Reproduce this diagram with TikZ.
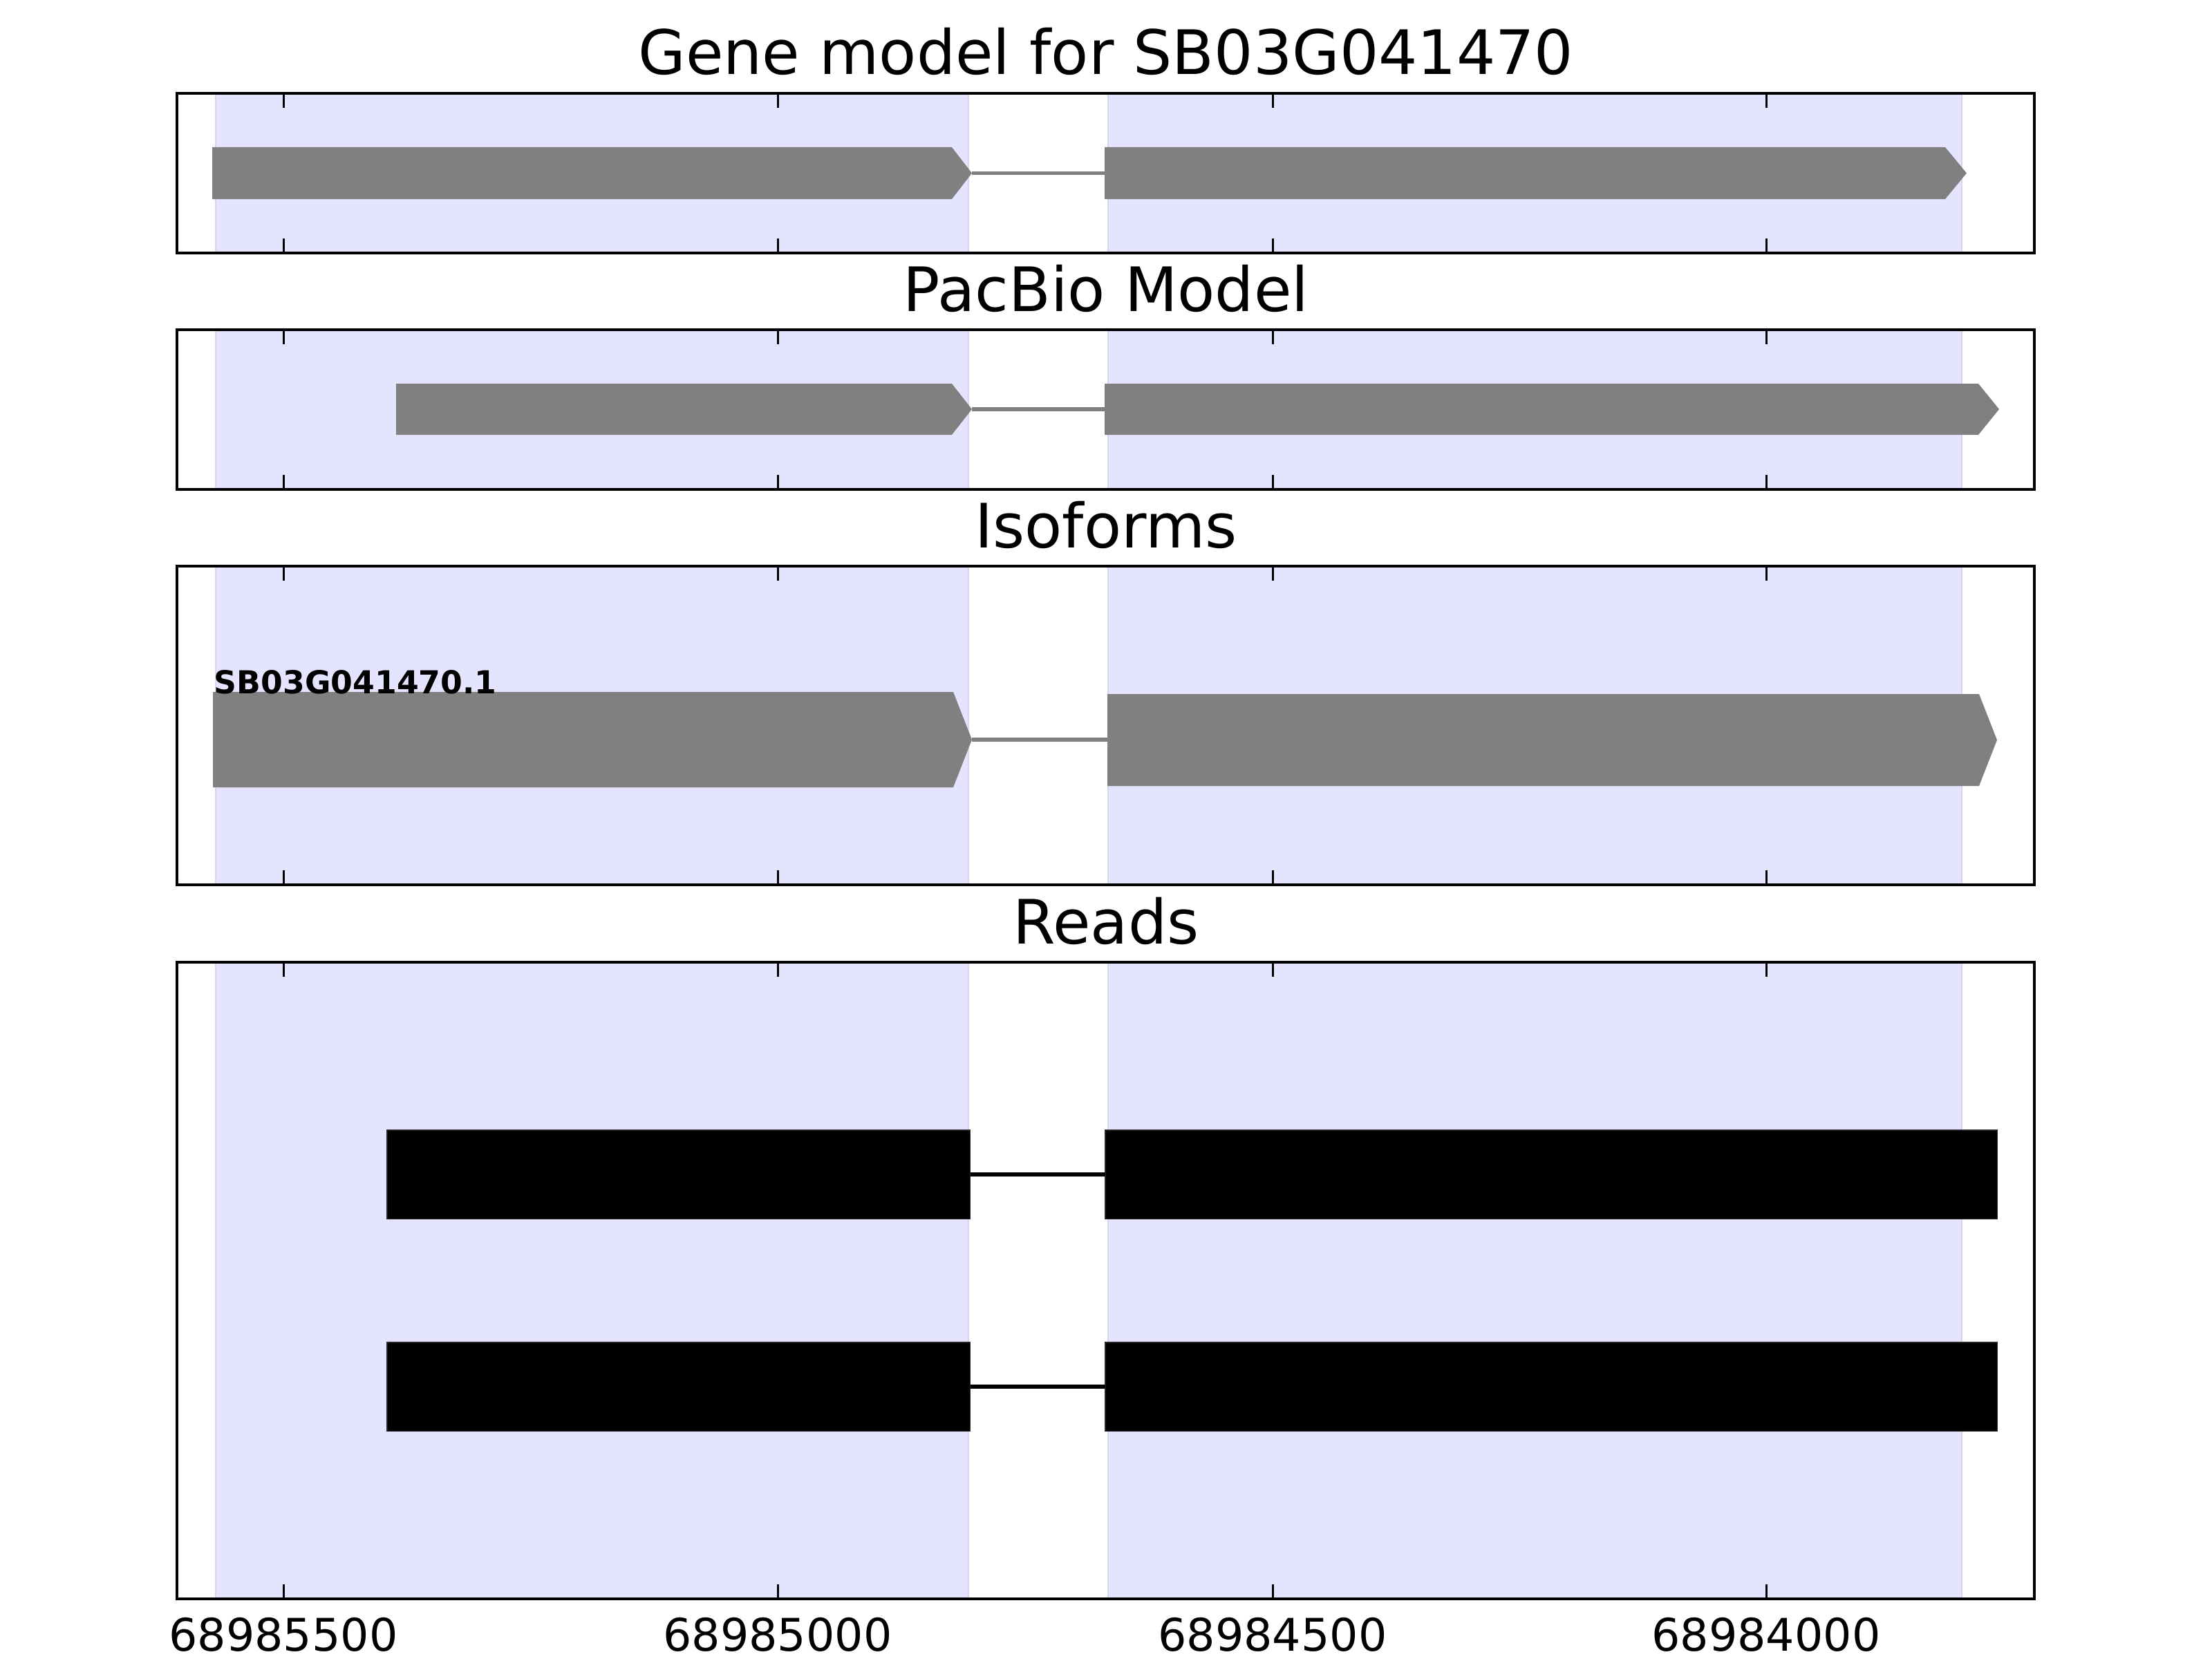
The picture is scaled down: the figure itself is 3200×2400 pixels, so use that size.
\documentclass[tikz,border=0pt]{standalone}
\usepackage{fontspec}
\setmainfont{DejaVu Sans}
\definecolor{spanfill}{RGB}{228,228,254}
\definecolor{spanedge}{RGB}{214,214,238}
\definecolor{exongray}{RGB}{128,128,128}
\begin{document}
\begin{tikzpicture}[x=0.01cm,y=-0.01cm,
  frame/.style={draw=black, line width=1.15pt},
  spanbox/.style={fill=spanfill, draw=spanedge, line width=0.6pt},
  tickmark/.style={draw=black, line width=0.85pt},
  exonshape/.style={fill=exongray, draw=none},
  intron/.style={draw=exongray, line width=1.6pt},
  readintron/.style={draw=black, line width=1.6pt},
  readbox/.style={fill=black, draw=black!85, line width=0.3pt, inner sep=0pt, outer sep=0pt, minimum height=1.28cm, anchor=west},
  paneltitle/.style={anchor=base, inner sep=0pt, font=\fontsize{25.2}{30}\selectfont},
  ticklabel/.style={anchor=base, inner sep=0pt, font=\fontsize{18.5}{22}\selectfont},
  isolabel/.style={anchor=base west, inner sep=0pt, font=\bfseries\fontsize{13}{15}\selectfont}
  ]
\useasboundingbox (0,0) rectangle (3200,2400);

% shaded exon spans of the four panels
\foreach \t/\b in {135/366, 477/708, 819/1280, 1392/2313}{
  \filldraw[spanbox] (312,\t) rectangle (1401,\b);
  \filldraw[spanbox] (1603,\t) rectangle (2838,\b);
}

% titles
\node[paneltitle] (title1) at (1600,108) {Gene model for SB03G041470};
\node[paneltitle] (title2) at (1600,450) {PacBio Model};
\node[paneltitle] (title3) at (1600,792) {Isoforms};
\node[paneltitle] (title4) at (1600,1365) {Reads};

% panel 1: gene model
\coordinate (g1tip) at (1406,250.5);
\coordinate (g1next) at (1598,250.5);
\draw[intron] (g1tip) -- (g1next);
\fill[exonshape] (307,213) -- (1377,213) -- (g1tip) -- (1377,288) -- (307,288) -- cycle;
\fill[exonshape] (1598,213) -- (2814,213) -- (2845,250.5) -- (2814,288) -- (1598,288) -- cycle;

% panel 2: PacBio model
\coordinate (p2tip) at (1406,592);
\coordinate (p2next) at (1598,592);
\draw[intron] (p2tip) -- (p2next);
\fill[exonshape] (573,555) -- (1377,555) -- (p2tip) -- (1377,629) -- (573,629) -- cycle;
\fill[exonshape] (1598,555) -- (2862,555) -- (2892,592) -- (2862,629) -- (1598,629) -- cycle;

% panel 3: isoforms
\coordinate (i3tip) at (1406,1070);
\coordinate (i3next) at (1602,1070);
\draw[intron] (i3tip) -- (i3next);
\fill[exonshape] (308,1001) -- (1379,1001) -- (i3tip) -- (1379,1139) -- (308,1139) -- cycle;
\fill[exonshape] (1602,1004) -- (2863,1004) -- (2889,1070.5) -- (2863,1137) -- (1602,1137) -- cycle;
\node[isolabel] (iso) at (309,1003) {SB03G041470.1};

% panel 4: reads
\node[readbox, minimum width=8.43cm] (r1a) at (560,1699) {};
\node[readbox, minimum width=12.9cm] (r1b) at (1599,1699) {};
\draw[readintron] (r1a.east) -- (r1b.west);
\node[readbox, minimum width=8.43cm] (r2a) at (560,2006) {};
\node[readbox, minimum width=12.9cm] (r2b) at (1599,2006) {};
\draw[readintron] (r2a.east) -- (r2b.west);

% ticks and frames
\foreach \t/\b in {135/366, 477/708, 819/1280, 1392/2313}{
  \foreach \x in {410,1125,1841,2555}{
    \draw[tickmark] (\x,\t) -- ++(0,21);
    \draw[tickmark] (\x,\b) -- ++(0,-21);
  }
  \draw[frame] (256,\t) rectangle (2943,\b);
}

% tick labels
\node[ticklabel] (l1) at (410,2388) {68985500};
\node[ticklabel] (l2) at (1125,2388) {68985000};
\node[ticklabel] (l3) at (1841,2388) {68984500};
\node[ticklabel] (l4) at (2555,2388) {68984000};
\end{tikzpicture}
\end{document}
